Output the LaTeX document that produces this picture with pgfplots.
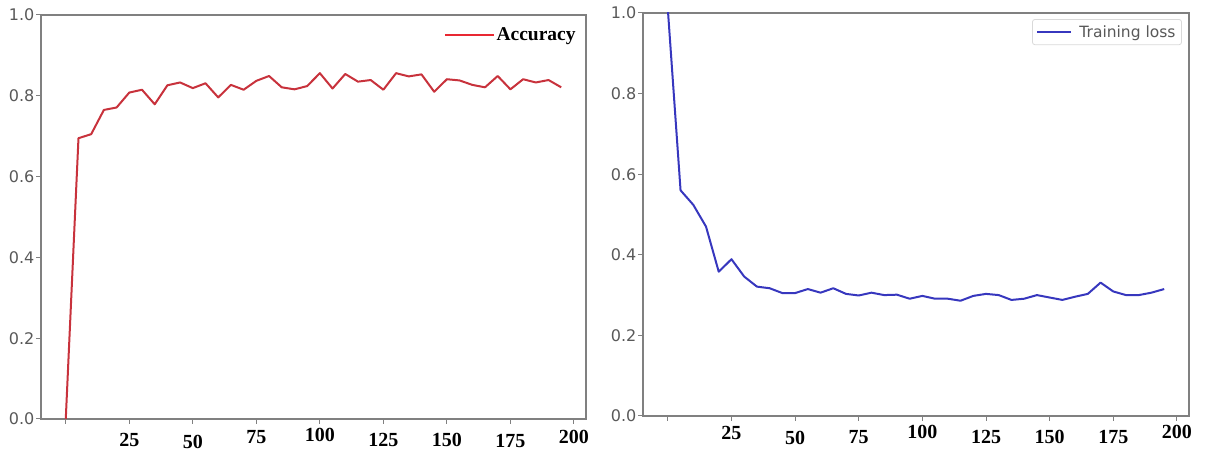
\documentclass[border=0pt]{standalone}
\usepackage{pgfplots}
\usepackage{pgfplotstable}
\pgfplotsset{compat=1.18}
\usepackage{fontspec}
\setmainfont{Liberation Serif}
\newfontfamily\dejavu{DejaVu Sans}
\definecolor{accred}{RGB}{200,50,60}
\definecolor{legred}{RGB}{232,40,50}
\definecolor{lossblue}{RGB}{55,55,190}
\newcommand\xl[2]{\raisebox{-#1pt}[14pt][0pt]{#2}}

\pgfplotstableread{
x y
0 0.000
5 0.695
10 0.705
15 0.765
20 0.771
25 0.808
30 0.815
35 0.779
40 0.826
45 0.833
50 0.819
55 0.831
60 0.796
65 0.827
70 0.815
75 0.837
80 0.849
85 0.821
90 0.816
95 0.824
100 0.856
105 0.818
110 0.854
115 0.835
120 0.839
125 0.815
130 0.856
135 0.848
140 0.853
145 0.810
150 0.841
155 0.838
160 0.827
165 0.821
170 0.849
175 0.816
180 0.841
185 0.833
190 0.839
195 0.821
}\acctable

\pgfplotstableread{
x y
0 1.010
5 0.560
10 0.524
15 0.470
20 0.358
25 0.389
30 0.346
35 0.321
40 0.317
45 0.305
50 0.305
55 0.315
60 0.306
65 0.317
70 0.303
75 0.299
80 0.306
85 0.300
90 0.301
95 0.291
100 0.298
105 0.291
110 0.291
115 0.286
120 0.298
125 0.303
130 0.300
135 0.288
140 0.291
145 0.300
150 0.294
155 0.288
160 0.296
165 0.303
170 0.331
175 0.309
180 0.300
185 0.300
190 0.306
195 0.315
}\losstable

\begin{document}
\begin{tikzpicture}
\useasboundingbox (0pt,0pt) rectangle (1212pt,454pt);
\pgfplotsset{
 common/.style={
  anchor=south west, scale only axis,
  xmin=-9.75, xmax=204.75, ymin=0, ymax=1,
  axis line style={draw=gray, line width=1.6pt},
  tick style={draw=gray, line width=1pt},
  tick align=outside, major tick length=5pt,
  xtick pos=left, ytick pos=left,
  xtick={0,25,50,75,100,125,150,175,200},
  ytick={0,0.2,0.4,0.6,0.8,1},
  yticklabels={0.0,0.2,0.4,0.6,0.8,1.0},
  yticklabel style={font=\dejavu\fontsize{16}{16}\selectfont, text=black!65, inner sep=1.5pt},
  xticklabel style={font=\bfseries\fontsize{20}{20}\selectfont, text=black},
  clip=true,
 }
}
\begin{axis}[common,
  at={(41pt,35pt)}, width=545pt, height=404pt,
  xticklabels={{},\xl{5}{25},\xl{7}{50},\xl{2}{75},\xl{0}{100},\xl{5}{125},\xl{5}{150},\xl{6}{175},\xl{2}{200}},
  legend style={draw=none, fill=none, at={(0.985,0.95)}, anchor=east,
    font=\bfseries\fontsize{19.5}{20}\selectfont, inner sep=0pt},
  legend image code/.code={\draw[legred, line width=1.5pt] (0pt,0pt) -- (49pt,0pt);},
]
\addplot[accred, line width=2pt, line join=round] table[x=x,y=y] {\acctable};
\addlegendentry{Accuracy}
\end{axis}
\begin{axis}[common,
  at={(643pt,38pt)}, width=546pt, height=403pt,
  xticklabels={{},\xl{1}{25},\xl{6}{50},\xl{5}{75},\xl{0}{100},\xl{5}{125},\xl{5}{150},\xl{5}{175},\xl{0}{200}},
  legend style={draw=gray!30, line width=0.8pt, rounded corners=2.5pt, fill=white,
    at={(0.987,0.985)}, anchor=north east, inner xsep=4pt, inner ysep=4pt,
    column sep=5pt,
    font=\dejavu\fontsize{15.5}{16}\selectfont, text=black!65},
  legend image code/.code={\draw[lossblue, line width=2pt] (0pt,0pt) -- (34pt,0pt);},
]
\addplot[lossblue, line width=2pt, line join=round] table[x=x,y=y] {\losstable};
\addlegendentry{Training loss}
\end{axis}
\end{tikzpicture}
\end{document}
